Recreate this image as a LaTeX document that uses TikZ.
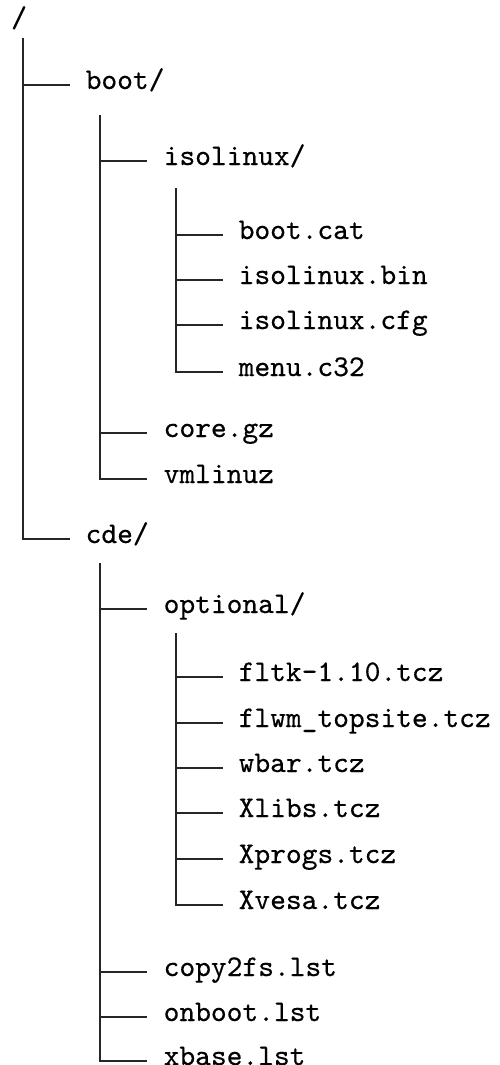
\documentclass[tikz,border=0pt]{standalone}
\usepackage{fontspec}
\newfontfamily\treefont{lmmono10-regular.otf}[FakeBold=0.4]
\begin{document}
\begin{tikzpicture}[x=1pt,y=-1pt,
  lbl/.style={inner sep=0pt, anchor=base west, font=\treefont\fontsize{30}{34}\selectfont},
  tline/.style={line width=1.6pt, draw=black!85}]
\useasboundingbox (0,0) rectangle (499,1065);
\node[lbl] (root) at (11,27) {/};
% root children
\coordinate (vroot) at (23,38);
\coordinate (cboot) at (70,85);
\coordinate (ccde) at (70,539);
\node[lbl] (boot) at ([shift={(15.5,4)}]cboot) {boot/};
\node[lbl] (cde) at ([shift={(15.5,4)}]ccde) {cde/};
\draw[tline] (vroot) |- (cboot);
\draw[tline] (vroot) |- (ccde);
% boot children
\coordinate (vboot) at (100,115);
\coordinate (ciso) at (147,161);
\coordinate (ccore) at (147,433);
\coordinate (cvml) at (147,479);
\node[lbl] (iso) at ([shift={(16.5,4)}]ciso) {isolinux/};
\node[lbl] (core) at ([shift={(16.5,4)}]ccore) {core.gz};
\node[lbl] (vml) at ([shift={(16.5,4)}]cvml) {vmlinuz};
\foreach \c in {ciso,ccore,cvml} \draw[tline] (vboot) |- (\c);
% isolinux children
\coordinate (viso) at (176,188);
\coordinate (cbc) at (223,235);
\coordinate (cib) at (223,280);
\coordinate (cic) at (223,325);
\coordinate (cmc) at (223,372);
\node[lbl] (bc) at ([shift={(15.5,4)}]cbc) {boot.cat};
\node[lbl] (ib) at ([shift={(15.5,4)}]cib) {isolinux.bin};
\node[lbl] (ic) at ([shift={(15.5,4)}]cic) {isolinux.cfg};
\node[lbl] (mc) at ([shift={(15.5,4)}]cmc) {menu.c32};
\foreach \c in {cbc,cib,cic,cmc} \draw[tline] (viso) |- (\c);
% cde children
\coordinate (vcde) at (100,563);
\coordinate (copt) at (147,609);
\coordinate (ccp) at (147,972);
\coordinate (con) at (147,1017);
\coordinate (cxb) at (147,1061);
\node[lbl] (opt) at ([shift={(16.5,4)}]copt) {optional/};
\node[lbl] (cp) at ([shift={(16.5,4)}]ccp) {copy2fs.lst};
\node[lbl] (on) at ([shift={(16.5,4)}]con) {onboot.lst};
\node[lbl] (xb) at ([shift={(16.5,4)}]cxb) {xbase.lst};
\foreach \c in {copt,ccp,con,cxb} \draw[tline] (vcde) |- (\c);
% optional children
\coordinate (vopt) at (176,633);
\coordinate (cf1) at (223,677);
\coordinate (cf2) at (223,723);
\coordinate (cf3) at (223,768);
\coordinate (cf4) at (223,813);
\coordinate (cf5) at (223,859);
\coordinate (cf6) at (223,905);
\node[lbl] (f1) at ([shift={(15.5,4)}]cf1) {fltk-1.10.tcz};
\node[lbl] (f2) at ([shift={(15.5,4)}]cf2) {flwm\_topsite.tcz};
\node[lbl] (f3) at ([shift={(15.5,4)}]cf3) {wbar.tcz};
\node[lbl] (f4) at ([shift={(15.5,4)}]cf4) {Xlibs.tcz};
\node[lbl] (f5) at ([shift={(15.5,4)}]cf5) {Xprogs.tcz};
\node[lbl] (f6) at ([shift={(15.5,4)}]cf6) {Xvesa.tcz};
\foreach \c in {cf1,cf2,cf3,cf4,cf5,cf6} \draw[tline] (vopt) |- (\c);
\end{tikzpicture}
\end{document}
